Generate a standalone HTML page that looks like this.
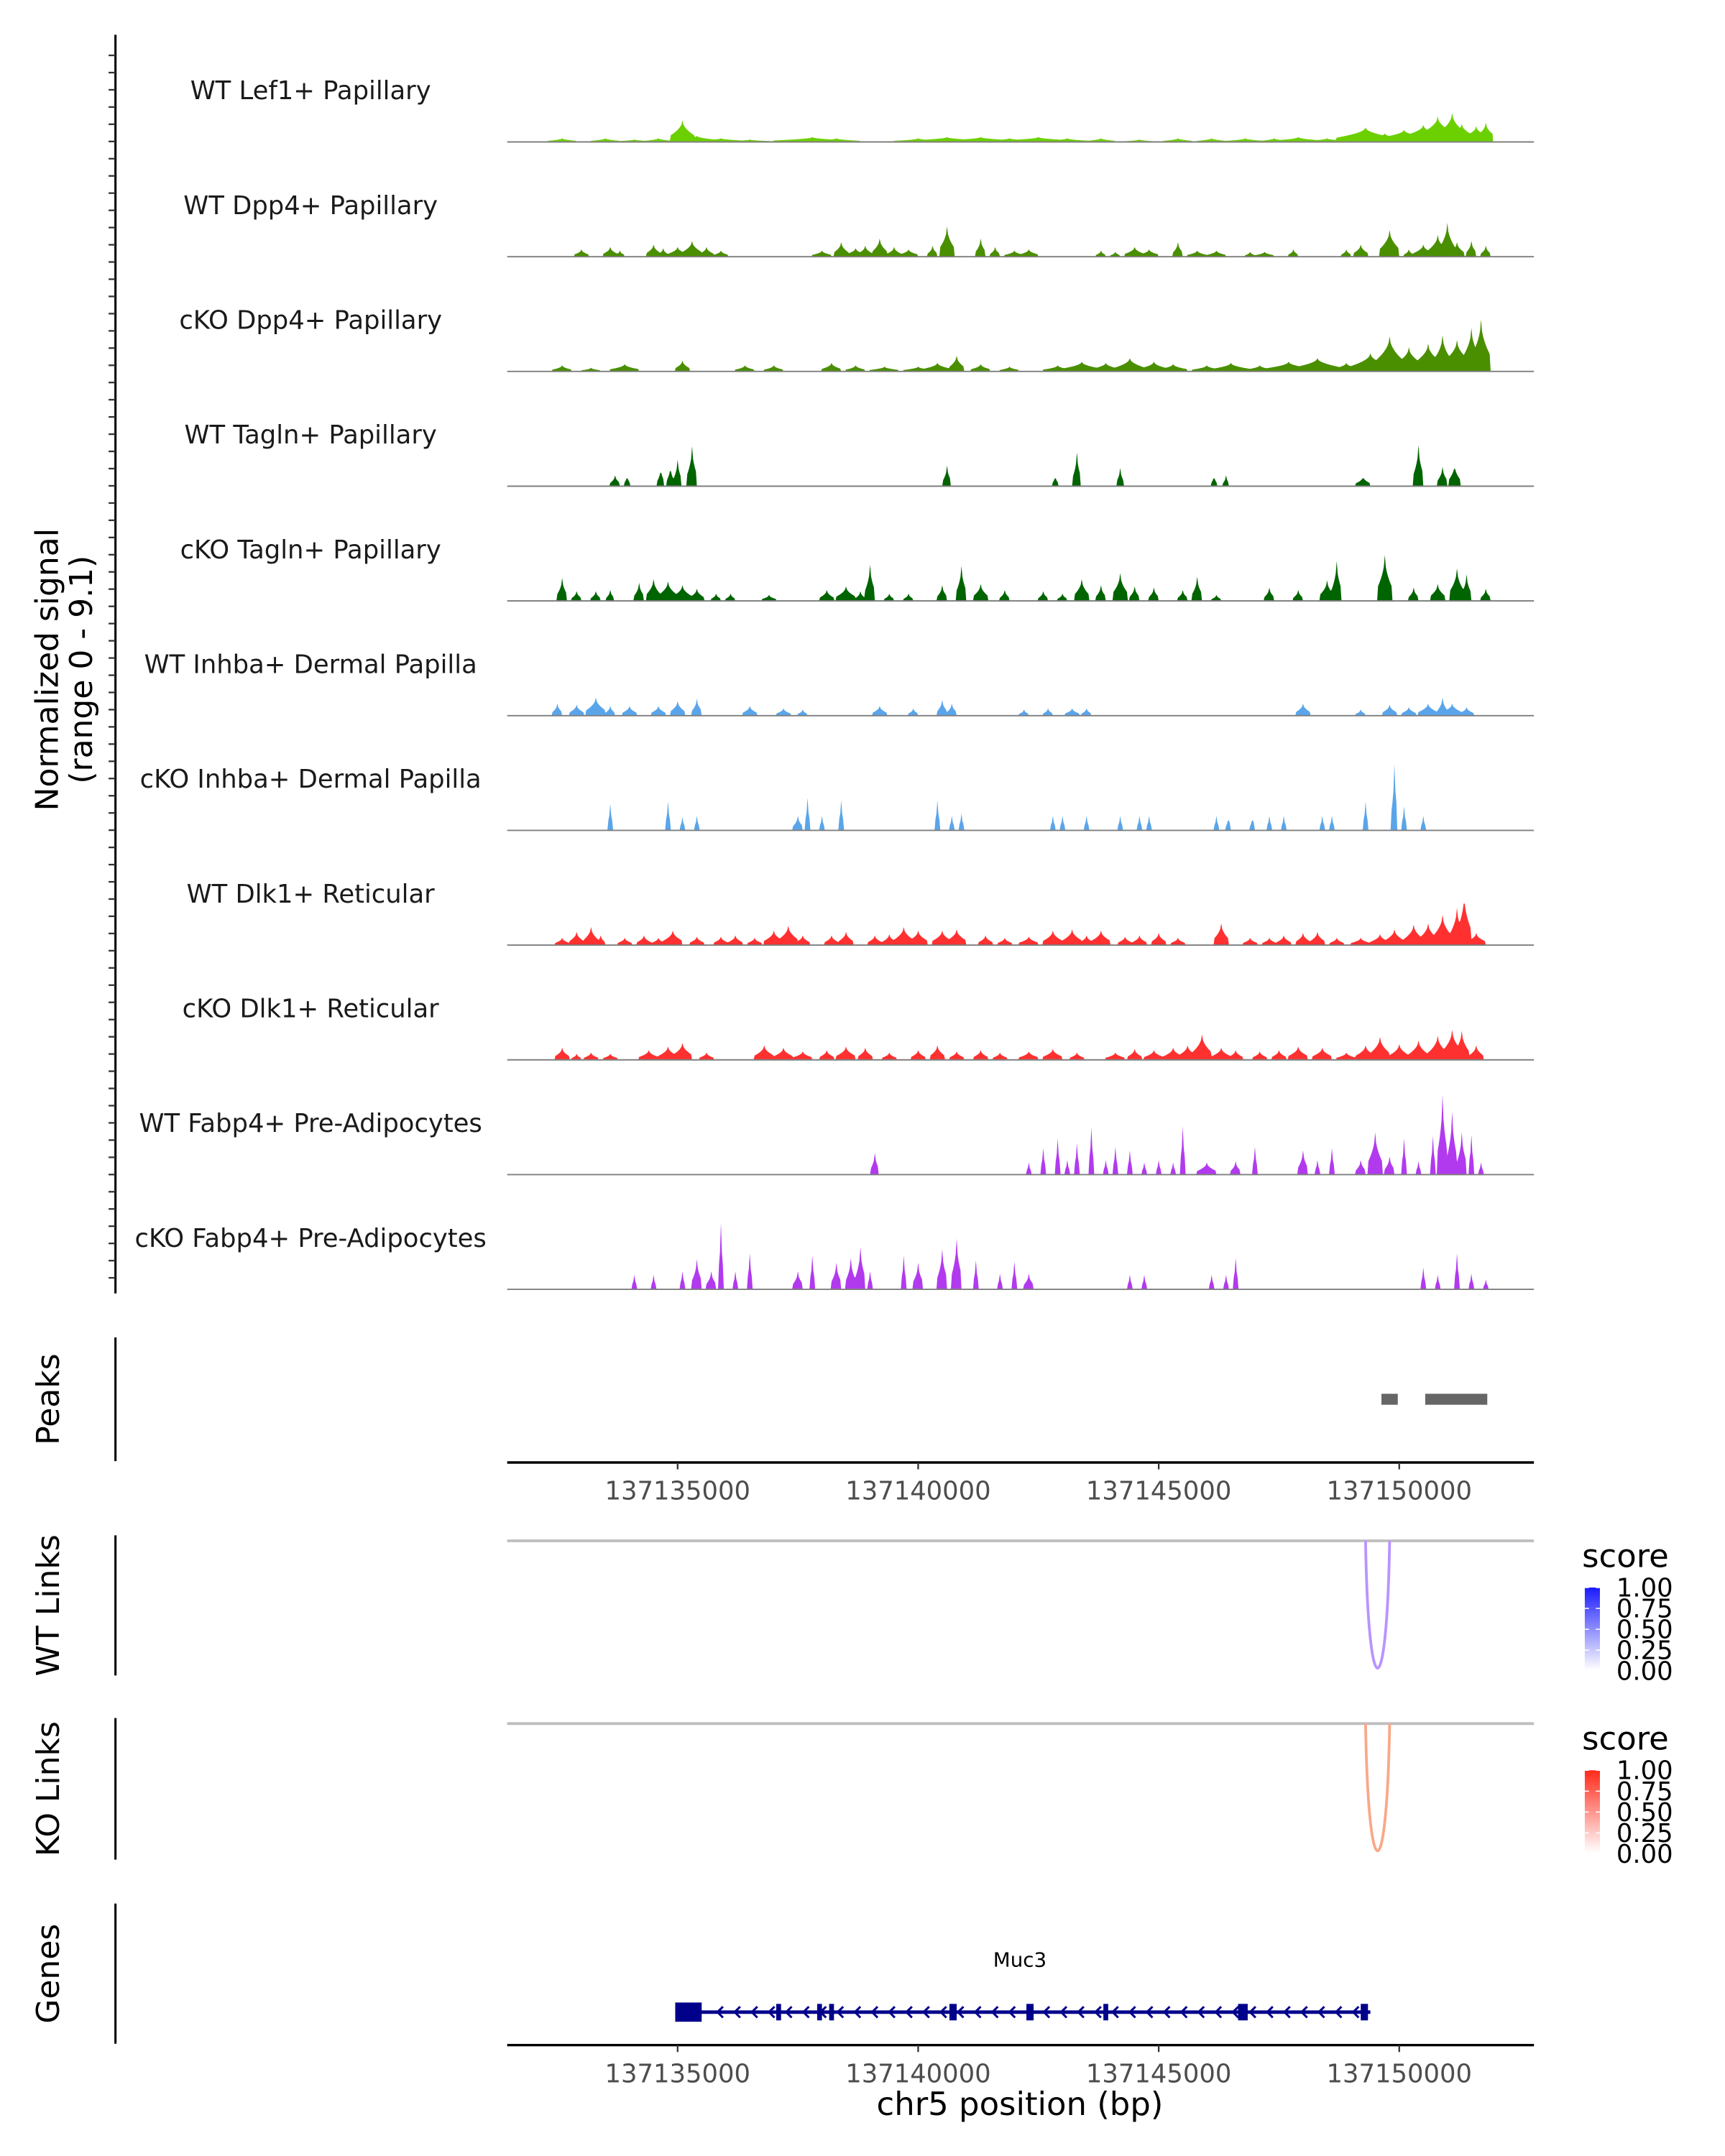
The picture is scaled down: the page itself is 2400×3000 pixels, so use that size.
<!DOCTYPE html>
<html><head><meta charset="utf-8">
<style>html,body{margin:0;padding:0;background:#fff;}svg{display:block;}text{font-family:"DejaVu Sans","Liberation Sans",sans-serif;}</style>
</head><body>
<svg id="chart" xmlns="http://www.w3.org/2000/svg" width="2400" height="3000" viewBox="-1 -0.3 1255 1569" preserveAspectRatio="none">
<rect x="-10" y="-10" width="1300" height="1600" fill="#fff"/>
<g id="tracks"></g>
<g id="axes"></g>
</svg>
<script>
const NS="http://www.w3.org/2000/svg";
// ---- data ----
const trackNames=["WT Lef1+ Papillary","WT Dpp4+ Papillary","cKO Dpp4+ Papillary","WT Tagln+ Papillary","cKO Tagln+ Papillary","WT Inhba+ Dermal Papilla","cKO Inhba+ Dermal Papilla","WT Dlk1+ Reticular","cKO Dlk1+ Reticular","WT Fabp4+ Pre-Adipocytes","cKO Fabp4+ Pre-Adipocytes"];
const trackColors=["#6CD000","#4A8F00","#4A8F00","#006400","#006400","#5AA5EA","#5AA5EA","#FF3030","#FF3030","#B23AEE","#B23AEE"];
// peaks: [center kb (offset from 137000 kb), half width kb, signal]
const lef1WT=[[132.6,.3,.3],[133.5,.3,.3],[134.1,.4,.2],[134.6,.3,.3],[135.1,.25,1.8],[135.4,.5,.5],[135.9,.6,.3],[136.5,.5,.2],[137.8,.8,.4],[138.3,.5,.3],[140.0,.5,.3],[140.6,.8,.4],[141.3,.8,.4],[141.9,.6,.3],[142.5,.8,.4],[143.1,.5,.3],[143.8,.3,.3],[144.6,.3,.2],[145.4,.3,.3],[146.1,.3,.3],[146.8,.4,.3],[147.4,.3,.3],[147.9,.5,.4],[148.5,.4,.3],[149.3,.6,1.2],[149.7,.5,.7],[150.1,.6,1.0],[150.5,.5,1.4],[150.8,.4,2.1],[151.1,.3,2.4],[151.3,.3,1.5],[151.6,.3,1.3],[151.8,.2,1.6]];
const dpp4WT=[[133.0,.15,.6],[133.6,.15,.8],[133.8,.1,.5],[134.5,.15,1.0],[134.7,.1,.7],[135.0,.2,.8],[135.3,.2,1.3],[135.6,.15,.8],[135.9,.15,.5],[138.0,.2,.5],[138.4,.15,1.2],[138.7,.2,.7],[138.9,.15,.9],[139.2,.15,1.5],[139.5,.15,.8],[139.8,.2,.6],[140.3,.1,.9],[140.6,.15,2.5],[141.3,.1,1.5],[141.6,.1,.8],[142.0,.2,.5],[142.3,.2,.6],[143.8,.1,.5],[144.1,.1,.4],[144.5,.2,.8],[144.8,.2,.6],[145.4,.1,1.2],[145.8,.2,.5],[146.2,.2,.5],[146.9,.1,.4],[147.2,.2,.4],[147.8,.1,.6],[148.9,.1,.6],[149.2,.15,1.0],[149.8,.2,2.2],[150.2,.1,.6],[150.5,.2,1.0],[150.8,.2,1.8],[151.0,.15,2.8],[151.2,.15,1.2],[151.5,.1,1.3],[151.8,.1,.9]];
const dpp4KO=[[132.6,.2,.5],[133.2,.2,.3],[133.9,.3,.6],[135.1,.15,.9],[136.4,.2,.5],[137.0,.2,.5],[138.2,.2,.7],[138.7,.2,.5],[139.3,.3,.4],[140.0,.3,.4],[140.4,.3,.7],[140.8,.15,1.3],[141.3,.2,.6],[141.9,.2,.4],[142.9,.3,.5],[143.4,.4,.8],[143.9,.3,.7],[144.4,.3,1.1],[144.9,.3,.8],[145.3,.3,.6],[146.0,.3,.5],[146.5,.4,.7],[147.1,.3,.5],[147.7,.5,.8],[148.3,.5,1.1],[148.9,.3,.7],[149.4,.4,1.5],[149.8,.3,2.9],[150.2,.3,2.0],[150.6,.3,2.3],[150.9,.2,3.0],[151.2,.3,2.6],[151.5,.2,3.6],[151.7,.2,4.3]];
const taglnWT=[[133.7,.1,.9],[133.95,.06,.9],[134.65,.07,1.5],[134.85,.07,1.7],[135.0,.08,2.2],[135.3,.1,3.3],[140.6,.08,1.7],[142.85,.06,.9],[143.3,.08,2.8],[144.2,.07,1.5],[146.15,.06,.9],[146.4,.06,.9],[149.25,.15,.8],[150.4,.1,3.4],[150.9,.1,1.6],[151.15,.12,1.8]];
const taglnKO=[[132.6,.1,1.9],[132.9,.1,.8],[133.3,.1,.8],[133.6,.08,.9],[134.2,.1,1.5],[134.5,.15,1.8],[134.8,.2,1.6],[135.1,.2,1.3],[135.4,.15,1.0],[135.8,.1,.6],[136.1,.1,.6],[136.9,.15,.5],[138.1,.15,.9],[138.5,.2,1.2],[138.8,.1,.8],[139.0,.1,3.0],[139.4,.1,.6],[139.8,.1,.6],[140.5,.1,1.3],[140.9,.1,2.9],[141.3,.15,1.4],[141.8,.1,.9],[142.6,.1,.8],[143.0,.1,.6],[143.4,.15,1.8],[143.8,.1,1.3],[144.2,.15,2.3],[144.5,.1,1.2],[144.9,.1,1.1],[145.5,.1,.9],[145.8,.1,2.0],[146.2,.1,.5],[147.3,.1,1.1],[147.9,.1,.9],[148.5,.15,1.7],[148.7,.1,3.3],[149.7,.15,3.8],[150.3,.1,1.1],[150.8,.15,1.4],[151.2,.15,2.7],[151.4,.1,2.2],[151.8,.1,1.0]];
const inhbaWT=[[132.5,.1,1.0],[132.9,.15,.9],[133.3,.2,1.5],[133.6,.1,.8],[134.0,.15,.8],[134.6,.15,.8],[135.0,.15,1.2],[135.4,.1,1.4],[136.5,.15,.8],[137.2,.15,.6],[137.6,.1,.5],[139.2,.15,.8],[139.9,.1,.6],[140.5,.1,1.3],[140.7,.1,1.0],[142.2,.1,.5],[142.7,.1,.6],[143.2,.15,.6],[143.5,.1,.6],[148.0,.15,1.0],[149.2,.1,.5],[149.8,.15,.9],[150.2,.15,.7],[150.6,.2,1.0],[150.9,.1,1.5],[151.1,.2,1.0],[151.4,.15,.7]];
const inhbaKO=[[133.6,.05,2.2],[134.8,.05,2.4],[135.1,.05,1.1],[135.4,.05,1.2],[137.5,.1,1.2],[137.7,.05,2.7],[138.0,.05,1.2],[138.4,.05,2.5],[140.4,.05,2.5],[140.7,.05,1.2],[140.9,.05,1.4],[142.8,.05,1.2],[143.0,.05,1.2],[143.5,.05,1.2],[144.2,.05,1.2],[144.6,.05,1.2],[144.8,.05,1.2],[146.2,.05,1.2],[146.45,.05,1.2],[146.95,.05,1.2],[147.3,.05,1.2],[147.6,.05,1.2],[148.4,.05,1.2],[148.6,.05,1.2],[149.3,.05,2.4],[149.9,.06,5.5],[150.1,.05,2.0],[150.5,.05,1.2]];
const dlk1WT=[[132.6,.15,.6],[132.9,.15,1.1],[133.2,.15,1.5],[133.4,.1,.8],[133.9,.15,.6],[134.3,.15,.8],[134.6,.15,.6],[134.9,.2,1.2],[135.4,.15,.7],[135.9,.15,.7],[136.2,.15,.8],[136.6,.15,.6],[137.0,.2,1.2],[137.3,.2,1.6],[137.6,.15,.8],[138.2,.15,.8],[138.5,.15,1.1],[139.1,.15,.8],[139.4,.15,.9],[139.7,.2,1.5],[140.0,.2,1.2],[140.5,.2,1.2],[140.8,.2,1.3],[141.4,.15,.8],[141.8,.15,.6],[142.3,.2,.7],[142.8,.2,1.2],[143.2,.2,1.3],[143.5,.15,.8],[143.8,.2,1.2],[144.3,.15,.7],[144.6,.15,.8],[145.0,.15,1.0],[145.4,.15,.6],[146.3,.15,1.8],[146.9,.15,.6],[147.3,.15,.6],[147.6,.15,.8],[148.0,.15,1.0],[148.3,.15,1.1],[148.7,.15,.6],[149.2,.2,.6],[149.6,.2,.9],[149.9,.2,1.3],[150.3,.2,1.7],[150.6,.2,1.8],[150.9,.2,2.5],[151.2,.15,3.1],[151.35,.15,4.2],[151.6,.2,1.0]];
const dlk1KO=[[132.6,.15,1.0],[132.9,.1,.5],[133.2,.15,.6],[133.6,.15,.5],[134.4,.2,.8],[134.8,.2,1.1],[135.1,.2,1.4],[135.6,.15,.6],[136.8,.2,1.2],[137.2,.2,1.0],[137.6,.2,.7],[138.1,.15,.8],[138.5,.2,1.1],[138.9,.15,1.0],[139.4,.15,.6],[140.0,.15,.8],[140.4,.15,1.2],[140.8,.15,.7],[141.3,.15,.8],[141.7,.15,.6],[142.3,.2,.7],[142.8,.2,.9],[143.3,.15,.6],[144.1,.2,.6],[144.5,.15,.9],[144.9,.2,.8],[145.3,.2,1.0],[145.6,.2,1.2],[145.9,.2,2.1],[146.3,.2,1.0],[146.6,.15,.8],[147.1,.15,.7],[147.5,.15,.8],[147.9,.2,1.1],[148.4,.2,1.0],[148.9,.2,.6],[149.3,.2,1.2],[149.6,.2,1.9],[150.0,.2,1.3],[150.4,.2,1.6],[150.8,.2,2.0],[151.1,.2,2.5],[151.3,.15,2.4],[151.6,.15,1.2]];
const fabp4WT=[[139.1,.08,1.8],[142.3,.05,1.0],[142.6,.05,2.2],[142.9,.05,3.0],[143.1,.05,1.2],[143.3,.05,2.6],[143.6,.05,3.9],[143.9,.05,1.2],[144.1,.05,2.3],[144.4,.05,2.0],[144.7,.05,1.0],[145.0,.05,1.2],[145.3,.05,1.0],[145.5,.05,4.0],[146.0,.2,1.0],[146.6,.1,1.1],[147.0,.05,2.3],[148.0,.1,2.0],[148.3,.05,1.2],[148.6,.05,2.2],[149.2,.1,1.2],[149.5,.15,3.5],[149.8,.1,1.5],[150.1,.05,3.0],[150.4,.05,1.1],[150.7,.05,3.2],[150.9,.1,6.6],[151.1,.1,5.2],[151.3,.1,3.5],[151.5,.05,3.3],[151.7,.05,1.0]];
const fabp4KO=[[134.1,.05,1.2],[134.5,.05,1.2],[135.1,.05,1.5],[135.4,.1,2.5],[135.7,.1,1.5],[135.9,.05,5.5],[136.2,.05,1.5],[136.5,.05,3.0],[137.5,.1,1.5],[137.8,.05,2.8],[138.3,.1,2.2],[138.6,.1,2.6],[138.8,.1,3.5],[139.0,.05,1.5],[139.7,.05,2.8],[140.0,.1,2.2],[140.5,.1,3.3],[140.8,.1,4.2],[141.2,.05,2.4],[141.7,.05,1.3],[142.0,.05,2.3],[142.3,.1,1.3],[144.4,.05,1.2],[144.7,.05,1.2],[146.1,.05,1.2],[146.4,.05,1.2],[146.6,.05,2.6],[150.5,.05,1.8],[150.8,.05,1.2],[151.2,.05,3.0],[151.5,.05,1.3],[151.8,.05,.8]];
const allPeaks=[lef1WT,dpp4WT,dpp4KO,taglnWT,taglnKO,inhbaWT,inhbaKO,dlk1WT,dlk1KO,fabp4WT,fabp4KO];
const xTicks=[135,140,145,150];
const xTickLabels=["137135000","137140000","137145000","137150000"];
const peakRegions=[[149.63,149.97],[150.54,151.83]];
const geneRange=[135.0,149.4];
const geneExons=[[134.95,135.5],[137.05,137.15],[137.9,138.0],[138.15,138.25],[140.65,140.8],[142.25,142.4],[143.85,143.95],[146.65,146.85],[149.2,149.35]];
const wtLink=[149.3,149.8,1.0];
const koLink=[149.3,149.8,1.0];
const legendTicks=["1.00","0.75","0.50","0.25","0.00"];
const signalMax=9.1;
// ---- scales ----
const X0=368,X1=1115;
function xs(kb){return 492+(kb-135)*35;}
function baseY(i){return 103+i*83.5;}
function ys(i,v){return baseY(i)-v*8.8;}
function mk(tag,attrs,parent){const e=document.createElementNS(NS,tag);for(const k in attrs)e.setAttribute(k,attrs[k]);parent.appendChild(e);return e;}
const T=document.getElementById('tracks'), A=document.getElementById('axes');
// ---- tracks ----
trackNames.forEach((nm,i)=>{
  const g=mk('g',{},T);
  
  
  const lab=mk('text',{x:225,y:baseY(i)-31,'text-anchor':'middle','font-size':'18.5',fill:'#1a1a1a'},g);
  lab.textContent=nm;
  
  
  const pk=allPeaks[i];
  let pts=[];const step=0.02;
  for(let kb=132.3;kb<=151.95;kb+=step){
    let v=0;
    for(const p of pk){const d=Math.abs(kb-p[0]);if(d<=p[1]){const s=p[2]*(1-0.7*Math.sqrt(d/p[1]));if(s>v)v=s;}}
    pts.push([xs(kb),ys(i,v)]);
  }
  let dstr='M'+xs(132.3)+','+baseY(i);
  pts.forEach(p=>{dstr+='L'+p[0].toFixed(2)+','+p[1].toFixed(2);});
  dstr+='L'+xs(151.95)+','+baseY(i)+'Z';
  const area=mk('path',{d:dstr,fill:trackColors[i]},g);
  
  
  const bl=mk('line',{x1:X0,x2:X1,y1:baseY(i),y2:baseY(i),stroke:'#7f7f7f','stroke-width':'1'},g);
  
  
});
// left axis with ticks
mk('line',{x1:83,x2:83,y1:25,y2:941,stroke:'#000','stroke-width':'1.6'},A);
for(let y=40;y<=941;y+=12.53){mk('line',{x1:78,x2:83,y1:y,y2:y,stroke:'#333','stroke-width':'1.2'},A);}
const yt=mk('text',{transform:'translate(41,487) rotate(-90)','text-anchor':'middle','font-size':'23',fill:'#000'},A);

yt.innerHTML='<tspan x="0" dy="0">Normalized signal</tspan><tspan x="0" dy="25">(range 0 - 9.1)</tspan>';
// panel labels
function panelLabel(txt,y0,y1,name){
  const l=mk('line',{x1:83,x2:83,y1:y0,y2:y1,stroke:'#000','stroke-width':'1.6'},A);
  
  const t=mk('text',{transform:'translate(42,'+((y0+y1)/2)+') rotate(-90)','text-anchor':'middle','font-size':'23',fill:'#000'},A);
  t.textContent=txt;
}
panelLabel('Peaks',973,1063,'peaks');
panelLabel('WT Links',1117,1219,'wt-links');
panelLabel('KO Links',1250,1353,'ko-links');
panelLabel('Genes',1385,1487,'genes');
// peaks
peakRegions.forEach(r=>{const e=mk('rect',{x:xs(r[0]),y:1014,width:xs(r[1])-xs(r[0]),height:8,fill:'#666'},A);
});
// x axes
function xAxis(y,name){
  const l=mk('line',{x1:X0,x2:X1,y1:y,y2:y,stroke:'#000','stroke-width':'1.8'},A);
  
  xTicks.forEach((t,k)=>{mk('line',{x1:xs(t),x2:xs(t),y1:y,y2:y+5,stroke:'#333','stroke-width':'1.2'},A);
    const tx=mk('text',{x:xs(t),y:y+27,'text-anchor':'middle','font-size':'18.5',fill:'#4d4d4d'},A);
    tx.textContent=xTickLabels[k];});
}
xAxis(1064,'x-axis-top');
xAxis(1488,'x-axis-bottom');
const xt=mk('text',{x:741,y:1539,'text-anchor':'middle','font-size':'23.5',fill:'#000'},A);
xt.textContent='chr5 position (bp)';
// links
function linkPanel(top,link,color,gradId,c1,name){
  const l=mk('line',{x1:X0,x2:X1,y1:top,y2:top,stroke:'#bebebe','stroke-width':'2'},A);
  
  const a=xs(link[0]),b=xs(link[1]),dep=95*link[2];
  const p=mk('path',{d:`M${a},${top} C${a+2},${top+dep*1.3} ${b-2},${top+dep*1.3} ${b},${top}`,fill:'none',stroke:color,'stroke-width':'2'},A);
  
  const ly=top+19;
  const st=mk('text',{x:1150,y:ly,'font-size':'23.5',fill:'#000'},A);st.textContent='score';
  
  const defs=mk('defs',{},A);
  const g=mk('linearGradient',{id:gradId,x1:0,y1:0,x2:0,y2:1},defs);
  mk('stop',{offset:'0',"stop-color":c1},g);mk('stop',{offset:'1',"stop-color":'#ffffff'},g);
  const r=mk('rect',{x:1152,y:top+34,width:11,height:60,fill:`url(#${gradId})`},A);
  
  legendTicks.forEach((t,k)=>{const yy=top+34+k*15.2;
    mk('line',{x1:1152,x2:1155,y1:yy,y2:yy,stroke:'#fff','stroke-width':'0.8'},A);
    mk('line',{x1:1160,x2:1163,y1:yy,y2:yy,stroke:'#fff','stroke-width':'0.8'},A);
    const tx=mk('text',{x:1175,y:yy+6.5,'font-size':'18.5',fill:'#000'},A);tx.textContent=t;});
}
linkPanel(1121,wtLink,'#B894FF','gblue','#1a1aff','wt-links');
linkPanel(1254,koLink,'#F9A88A','gred','#ff2a1a','ko-links');
// gene
const gg=mk('g',{},A);
const gy=1464,navy='#00008B';
mk('line',{x1:xs(geneRange[0]),x2:xs(geneRange[1]),y1:gy,y2:gy,stroke:navy,'stroke-width':'2.5'},gg);
for(let x=xs(geneRange[0])+30;x<xs(geneRange[1])-3;x+=12.5){mk('polyline',{points:`${x+3},${gy-4} ${x-1},${gy} ${x+3},${gy+4}`,fill:'none',stroke:navy,'stroke-width':'1.6'},gg);}
geneExons.forEach((e,k)=>{const w=Math.max(xs(e[1])-xs(e[0]),3);mk('rect',{x:xs(e[0]),y:gy-(k==0?7:6),width:w,height:k==0?14:12,fill:navy},gg);});
const gl=mk('text',{x:741,y:1431,'text-anchor':'middle','font-size':'14.5',fill:'#000'},gg);gl.textContent='Muc3';

</script>
</body></html>
